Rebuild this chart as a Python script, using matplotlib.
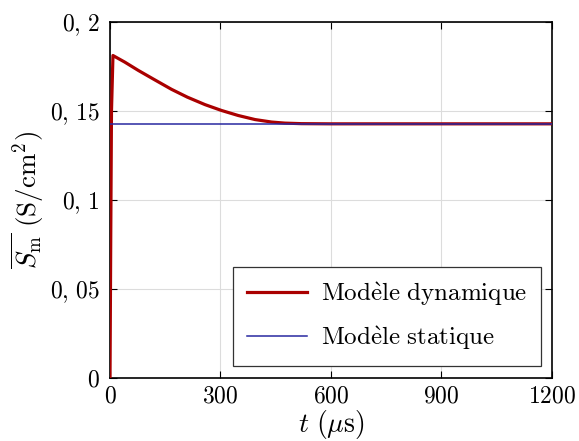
import matplotlib
matplotlib.use('Agg')
import matplotlib.pyplot as plt

plt.rcParams['font.family'] = ['cmr10', 'DejaVu Serif']
plt.rcParams['mathtext.fontset'] = 'cm'
plt.rcParams['axes.formatter.use_mathtext'] = True

# temps (us) et conductance moyenne (S/cm2)
t_dyn = [0, 2, 4, 8, 20, 40, 77, 120, 167, 210, 258, 303, 348, 394, 439, 475, 520, 600, 900, 1200]
s_dyn = [0, 0.08, 0.15, 0.1812, 0.1798, 0.1775, 0.1728, 0.1677, 0.1622, 0.1578, 0.1536, 0.1503,
         0.1475, 0.1452, 0.1438, 0.1432, 0.1429, 0.1428, 0.1428, 0.1428]
t_stat = [0, 1200]
s_stat = [0.1427, 0.1427]

xticks = [0, 300, 600, 900, 1200]
yticks = [0, 0.05, 0.1, 0.15, 0.2]
ylabels = ['0', '0,05', '0,1', '0,15', '0,2']

fig = plt.figure(figsize=(5.79, 4.41), dpi=100)
ax = fig.add_axes([0.190, 0.143, 0.763, 0.807])

ax.plot(t_dyn, s_dyn, color='#aa0000', lw=2.3, label=r'$\mathrm{Mod\grave{e}le\ dynamique}$', zorder=3)
ax.plot(t_stat, s_stat, color='#2828a0', lw=1.1, label=r'$\mathrm{Mod\grave{e}le\ statique}$', zorder=4)

ax.set_xlim(0, 1200)
ax.set_ylim(0, 0.2)
ax.set_xticks(xticks)
ax.set_xticklabels(['$%d$' % v for v in xticks])
ax.set_yticks(yticks)
ax.set_yticklabels(['$' + l.replace(',', ',\\,') + '$' for l in ylabels])
ax.tick_params(direction='in', top=True, right=True, length=5, width=0.8, labelsize=17)
ax.tick_params(axis='y', pad=7)
ax.tick_params(axis='x', pad=5)
ax.grid(True, color='#dcdcdc', lw=0.8)
ax.set_axisbelow(True)
for sp in ax.spines.values():
    sp.set_linewidth(1.2)

ax.set_xlabel(r'$t\ (\mu\mathrm{s})$', fontsize=20, labelpad=1)
ax.set_ylabel(r'$\overline{S_\mathrm{m}}\ (\mathrm{S/cm}^2)$', fontsize=19.5, labelpad=3)

leg = ax.legend(loc='lower right', bbox_to_anchor=(0.975, 0.034), borderaxespad=0, fontsize=18,
                fancybox=False, edgecolor='#333333', framealpha=1, handlelength=2.4, borderpad=0.55,
                labelspacing=0.65, handletextpad=0.55)
leg.get_frame().set_linewidth(0.9)

fig.savefig('out.png', dpi=100)
